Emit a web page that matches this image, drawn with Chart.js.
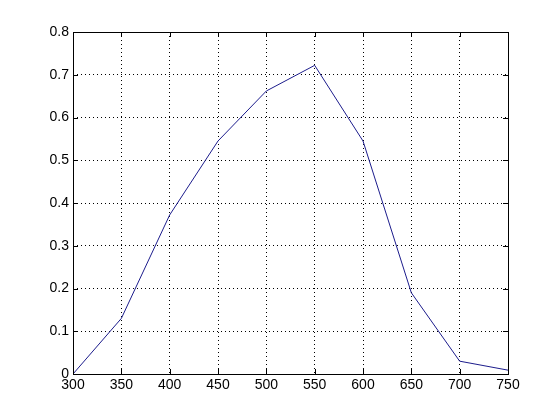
<!DOCTYPE html>
<html>
<head>
<meta charset="utf-8">
<script src="https://cdn.jsdelivr.net/npm/chart.js@4"></script>
<style>
  html, body { margin: 0; padding: 0; background: #fff; }
  #wrap { width: 560px; height: 420px; }
</style>
</head>
<body>
<div id="wrap"><canvas id="plot" width="560" height="420"></canvas></div>
<script>
const wavelengths = [300, 350, 400, 450, 500, 550, 600, 650, 700, 750]
const response = [0.0, 0.13, 0.372, 0.545, 0.662, 0.722, 0.545, 0.19, 0.03, 0.009]
const xTicks = [300, 350, 400, 450, 500, 550, 600, 650, 700, 750]
const yTicks = [0, 0.1, 0.2, 0.3, 0.4, 0.5, 0.6, 0.7, 0.8]

const fontFace = { family: "'Liberation Sans', Arial, sans-serif", size: 14 }

// box round the axes plus inward ticks, like the old plot style
const boxPlugin = {
    id: 'box',
    afterDraw(chart) {
        const { ctx, chartArea: a, scales } = chart
        ctx.save()
        ctx.strokeStyle = '#000'
        ctx.lineWidth = 1
        ctx.setLineDash([])
        ctx.strokeRect(a.left + 0.5, a.top + 0.5, a.right - a.left, a.bottom - a.top)
        ctx.beginPath()
        xTicks.forEach(v => {
            const x = Math.round(scales.x.getPixelForValue(v)) + 0.5
            ctx.moveTo(x, a.bottom); ctx.lineTo(x, a.bottom - 5)
            ctx.moveTo(x, a.top); ctx.lineTo(x, a.top + 5)
        })
        yTicks.forEach(v => {
            const y = Math.round(scales.y.getPixelForValue(v)) + 0.5
            ctx.moveTo(a.left, y); ctx.lineTo(a.left + 5, y)
            ctx.moveTo(a.right, y); ctx.lineTo(a.right - 5, y)
        })
        ctx.stroke()
        ctx.restore()
    }
}

const plotCtx = document.querySelector('#plot').getContext('2d')
const chart = new Chart(plotCtx, {
    type: 'line',
    data: {
        datasets: [{
            data: wavelengths.map((w, i) => ({ x: w, y: response[i] })),
            borderColor: '#1c1c8c',
            borderWidth: 1,
            pointRadius: 0,
            tension: 0,
            fill: false
        }]
    },
    options: {
        responsive: false,
        animation: false,
        layout: { padding: { top: 32, right: 52, left: 0, bottom: 0 } },
        plugins: { legend: { display: false }, tooltip: { enabled: false } },
        scales: {
            x: {
                type: 'linear',
                min: 300,
                max: 750,
                afterBuildTicks: s => { s.ticks = xTicks.map(v => ({ value: v })) },
                afterFit: s => { s.height = 46 },
                grid: { color: '#000', lineWidth: 1, drawTicks: false },
                border: { display: false, dash: [1, 3] },
                ticks: { color: '#000', font: fontFace, padding: 3, maxRotation: 0, autoSkip: false }
            },
            y: {
                min: 0,
                max: 0.8,
                afterBuildTicks: s => { s.ticks = yTicks.map(v => ({ value: v })) },
                afterFit: s => { s.width = 73 },
                grid: { color: '#000', lineWidth: 1, drawTicks: false },
                border: { display: false, dash: [1, 3] },
                ticks: { color: '#000', font: fontFace, padding: 4, callback: v => String(Math.round(v * 10) / 10) }
            }
        }
    },
    plugins: [boxPlugin]
})
</script>
</body>
</html>
